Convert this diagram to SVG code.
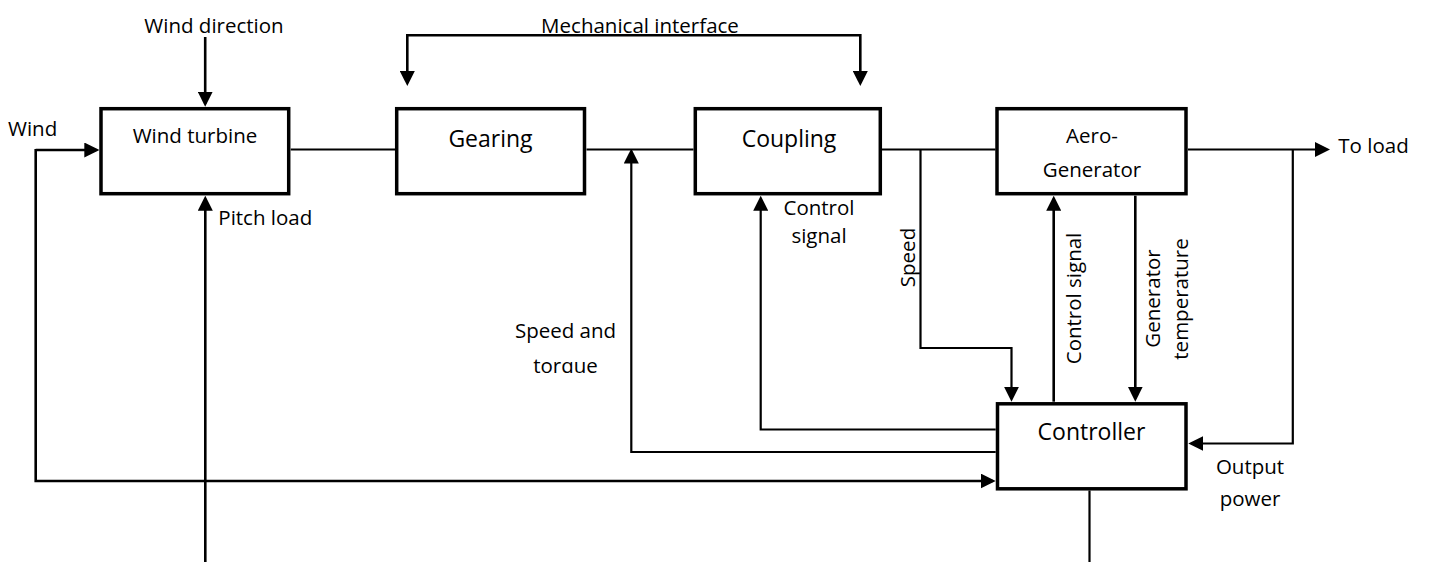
<svg xmlns="http://www.w3.org/2000/svg" width="1441" height="562" viewBox="0 0 1441 562">
  <style>
    .box { fill: #ffffff; stroke: #000000; stroke-width: 3.5; }
    .ln { fill: none; stroke: #000000; stroke-width: 2.2; }
    .lt { fill: none; stroke: #000000; stroke-width: 2.6; }
    .t { font-family: "Open Sans", "Liberation Sans", sans-serif; font-size: 20.5px; fill: #000000; }
    .tb { font-family: "Open Sans", "Liberation Sans", sans-serif; font-size: 23px; fill: #000000; }
    .c { text-anchor: middle; }
  </style>
  <defs>
    <marker id="ah" markerUnits="userSpaceOnUse" markerWidth="15" markerHeight="15" refX="12" refY="7.5" orient="auto-start-reverse">
      <path d="M0,0 L15,7.5 L0,15 z" fill="#000000"/>
    </marker>
    <clipPath id="clipTorque">
      <rect x="500" y="340" width="140" height="33"/>
    </clipPath>
  </defs>
  <rect x="0" y="0" width="1441" height="562" fill="#ffffff"/>

  <g id="connectors">
    <path class="lt" d="M205.2,37 V103.7" marker-end="url(#ah)"/>
    <path class="lt" d="M205.3,562 V198.7" marker-end="url(#ah)"/>
    <path class="lt" d="M35.7,150 H96.3" marker-end="url(#ah)"/>
    <path class="lt" d="M35.7,149 V481 H992.7" marker-end="url(#ah)"/>
    <path class="ln" d="M290.7,149.5 H395"/>
    <path class="ln" d="M586.5,149.5 H693.5"/>
    <path class="ln" d="M882,149.5 H995.5"/>
    <path class="ln" d="M1188,149.5 H1327" marker-end="url(#ah)"/>
    <path class="lt" d="M407.3,83 V35.3 H860.3 V83" marker-start="url(#ah)" marker-end="url(#ah)"/>
    <path class="ln" d="M995.7,452 H631.3 V151.5" marker-end="url(#ah)"/>
    <path class="ln" d="M995.7,429.5 H760.7 V198.7" marker-end="url(#ah)"/>
    <path class="ln" d="M920.5,149.5 V348 H1011.5 V398.7" marker-end="url(#ah)"/>
    <path class="lt" d="M1053.7,401.7 V198.7" marker-end="url(#ah)"/>
    <path class="lt" d="M1135.3,195.7 V398.7" marker-end="url(#ah)"/>
    <path class="ln" d="M1292.8,149.5 V443.5 H1191.3" marker-end="url(#ah)"/>
    <path class="ln" d="M1089.5,490.5 V562"/>
  </g>

  <g id="wind-turbine">
    <rect class="box" x="101" y="108.7" width="187.7" height="85"/>
    <text class="t c" x="195" y="143.3">Wind turbine</text>
  </g>
  <g id="gearing">
    <rect class="box" x="396.7" y="108.7" width="187.8" height="85"/>
    <text class="tb c" x="490.5" y="146.7">Gearing</text>
  </g>
  <g id="coupling">
    <rect class="box" x="695.3" y="108.7" width="185" height="85"/>
    <text class="tb c" x="789" y="146.7">Coupling</text>
  </g>
  <g id="aero-generator">
    <rect class="box" x="997" y="108.7" width="189" height="85"/>
    <text class="t c" x="1092" y="143.3">Aero-</text>
    <text class="t c" x="1092" y="177.3">Generator</text>
  </g>
  <g id="controller">
    <rect class="box" x="997.5" y="403.8" width="188.5" height="85"/>
    <text class="tb c" x="1091.5" y="440">Controller</text>
  </g>

  <g id="labels">
    <text class="t c" x="214" y="33.3">Wind direction</text>
    <text class="t" x="8" y="136">Wind</text>
    <text class="t" x="218.3" y="225">Pitch load</text>
    <text class="t c" x="640" y="33.3">Mechanical interface</text>
    <text class="t" x="1338.3" y="153.3">To load</text>
    <text class="t c" x="819" y="215">Control</text>
    <text class="t c" x="819" y="243">signal</text>
    <text class="t c" x="565.5" y="338.3">Speed and</text>
    <text class="t c" x="565.5" y="372.7" clip-path="url(#clipTorque)">torque</text>
    <text class="t c" transform="translate(915,257.5) rotate(-90)">Speed</text>
    <text class="t c" transform="translate(1081,298.5) rotate(-90)">Control signal</text>
    <text class="t c" transform="translate(1159.5,298.5) rotate(-90)">Generator</text>
    <text class="t c" transform="translate(1187.5,299) rotate(-90)">temperature</text>
    <text class="t c" x="1250" y="474">Output</text>
    <text class="t c" x="1250" y="506">power</text>
  </g>
</svg>
